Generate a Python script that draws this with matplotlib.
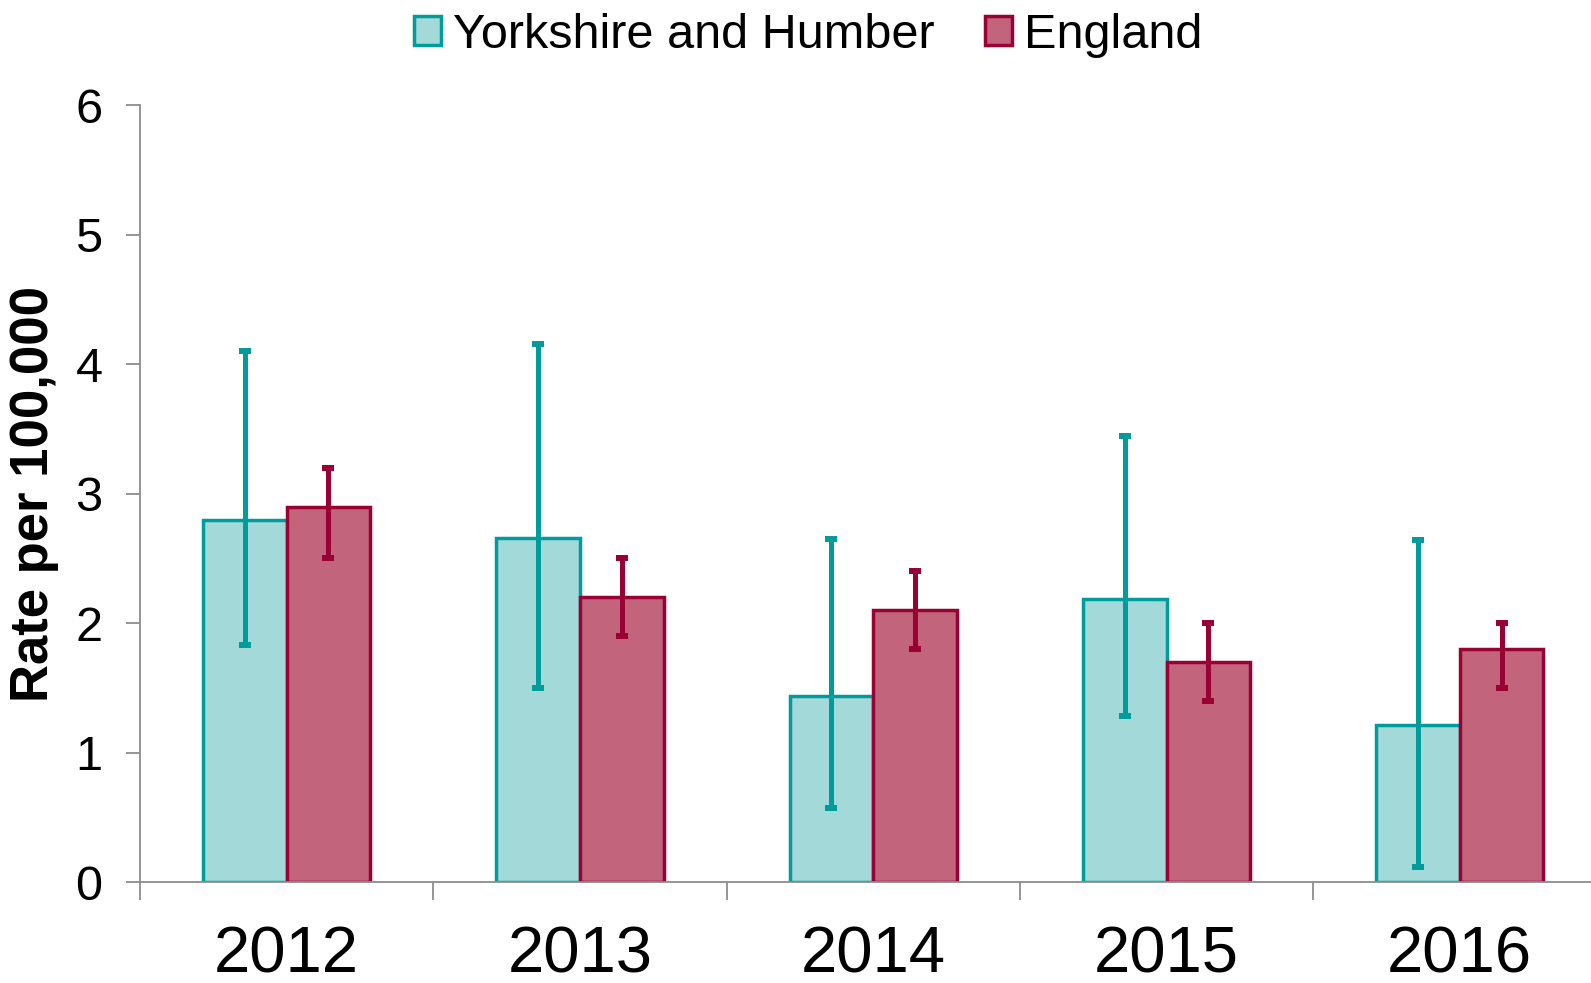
import numpy as np
import matplotlib
matplotlib.use('Agg')
import matplotlib.pyplot as plt

plt.rcParams['font.family'] = ['Liberation Sans', 'DejaVu Sans']

years = ['2012', '2013', '2014', '2015', '2016']
yh_rate = [2.80, 2.66, 1.44, 2.19, 1.21]
yh_low = [1.83, 1.50, 0.57, 1.28, 0.12]
yh_high = [4.10, 4.16, 2.65, 3.45, 2.64]
eng_rate = [2.90, 2.20, 2.10, 1.70, 1.80]
eng_low = [2.50, 1.90, 1.80, 1.40, 1.50]
eng_high = [3.20, 2.50, 2.40, 2.00, 2.00]

teal_edge = '#009B9B'
teal_fill = '#A3D9D9'
red_edge = '#990033'
red_fill = '#C2647C'
axis_grey = '#8C8C8C'

fig = plt.figure(figsize=(15.91, 9.83), dpi=100)
ax = fig.add_axes([0.088, 0.1027, 0.9217, 0.790])

x = np.arange(len(years))
w = 0.285

yh_err = [np.array(yh_rate) - np.array(yh_low), np.array(yh_high) - np.array(yh_rate)]
eng_err = [np.array(eng_rate) - np.array(eng_low), np.array(eng_high) - np.array(eng_rate)]

ax.bar(x - w / 2, yh_rate, w, color=teal_fill, edgecolor=teal_edge, linewidth=2.5,
       label='Yorkshire and Humber', zorder=2)
ax.bar(x + w / 2, eng_rate, w, color=red_fill, edgecolor=red_edge, linewidth=2.5,
       label='England', zorder=2)
ax.errorbar(x - w / 2, yh_rate, yerr=yh_err, fmt='none', ecolor=teal_edge,
            elinewidth=3.6, capsize=4.3, capthick=4.3, zorder=3)
ax.errorbar(x + w / 2, eng_rate, yerr=eng_err, fmt='none', ecolor=red_edge,
            elinewidth=3.6, capsize=4.3, capthick=4.3, zorder=3)

ax.set_xlim(-0.5, len(years) - 0.5)
ax.set_ylim(0, 6)
ax.set_yticks(range(7))

# category boundaries as ticks, year labels in the middle
ax.set_xticks(np.arange(-0.5, len(years), 1.0))
ax.set_xticklabels([])
ax.set_xticks(x, minor=True)
ax.set_xticklabels(years, minor=True)
ax.tick_params(axis='x', which='major', direction='out', length=13, width=1.3, color=axis_grey)
ax.tick_params(axis='x', which='minor', length=0, pad=31, labelsize=47)
ax.tick_params(axis='y', direction='out', length=10, width=1.3, color=axis_grey, pad=17, labelsize=35)

for s in ['top', 'right']:
    ax.spines[s].set_visible(False)
for s in ['left', 'bottom']:
    ax.spines[s].set_color(axis_grey)
    ax.spines[s].set_linewidth(1.3)

ax.set_ylabel('Rate per 100,000', fontsize=38, fontweight='bold', labelpad=12)

fig.legend(loc='center', bbox_to_anchor=(0.508, 0.964), ncol=2, frameon=False,
           fontsize=35, handlelength=0.55, handleheight=0.55, handletextpad=0.25,
           columnspacing=1.05)

fig.savefig('out.png', dpi=100)
